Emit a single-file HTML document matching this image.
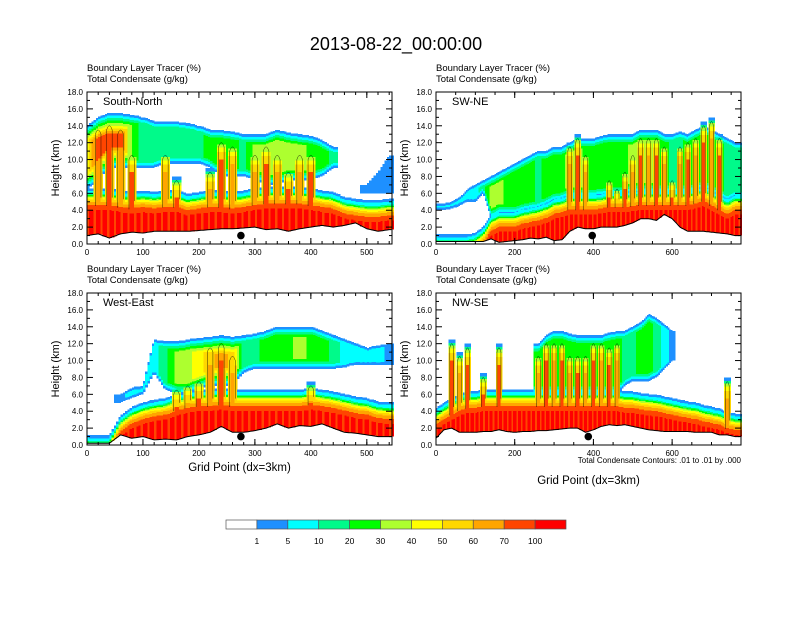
<!DOCTYPE html>
<html><head><meta charset="utf-8">
<style>
html,body{margin:0;padding:0;background:#fff;}
body{width:792px;height:612px;overflow:hidden;font-family:"Liberation Sans",sans-serif;}
svg text{font-family:"Liberation Sans",sans-serif;}
</style></head>
<body>
<svg id="fig" width="792" height="612" viewBox="0 0 792 612" xmlns="http://www.w3.org/2000/svg">
<text x="396" y="50" font-size="18" text-anchor="middle">2013-08-22_00:00:00</text>
</svg>
<script>
// ---------- DATA ----------
const colors = ["#ffffff","#1e90ff","#00ffff","#00fa8a","#00ff00","#adff2f","#ffff00","#ffd700","#ffa500","#ff4500","#ff0000"];
const legendLabels = ["1","5","10","20","30","40","50","60","70","100"];
const yTickLabels = ["0.0","2.0","4.0","6.0","8.0","10.0","12.0","14.0","16.0","18.0"];

// Panel 1: South-North (grid step 20)
const p1Terrain = [1.0,1.2,0.7,1.2,1.4,1.3,1.5,1.5,1.5,1.5,1.6,1.7,1.8,1.8,1.9,2.0,1.7,1.8,1.5,1.8,2.0,2.2,2.0,2.2,2.5,1.8,1.5,1.7];
const p1Plume   = [6.0,6.0,6.0,5.8,5.6,5.8,5.6,5.8,5.8,5.4,5.6,5.8,5.8,5.6,5.8,6.0,6.2,6.2,6.2,6.2,6.0,5.8,5.6,5.0,4.8,4.6,4.6,4.8];
const p1Conv    = [0,14,14.5,14,11,0,0,11,8,0,0,9,12.5,12,0,11,12,11,9,11,11,0,0,0,0,0,0,0];
const p1AnvBase = [6.5,7.5,9,9,9,9,9,9.5,9.5,9.5,9.5,9,8,8,8,7.5,7,7,7.5,7.5,7.5,8,9,0,0,6,6,6];
const p1AnvTop  = [14,15,15.5,15.5,15.3,15,14.5,14.5,14.5,14.3,14,13.5,13.5,13.3,13,13,13,13.5,13.2,13,12.8,12.3,11.5,0,0,7,8.5,10.5];
const p1AnvCore = [6,9,9,9,4,3,3,3,3,3,3,4,4,4,3,5,5,5,5,5,4,4,3,0,0,1,1,1];

// Panel 2: SW-NE
const p2Terrain = [0.3,0.3,0.3,0.3,0.3,0.3,0.3,0.6,0.2,0.3,0.4,0.5,0.7,0.6,0.8,0.4,0.5,1.5,2.0,1.8,1.8,2.0,2.0,2.0,2.2,2.5,3.0,3.0,2.8,3.5,3.0,2.0,1.5,1.5,1.5,1.4,1.3,1.2,1.0];
const p2Plume   = [0.6,0.6,0.6,0.6,0.6,0.8,1.5,3,3.5,3.5,3.5,3.8,4,4.2,4.5,5,5.2,5.5,5.5,5.5,5.5,5.6,5.8,5.8,5.8,5.9,6,6,6,6,6,6,6,6.2,6.5,6,5.5,5,5.5];
const p2Conv    = [0,0,0,0,0,0,0,0,0,0,0,0,0,0,0,0,0,12,13,11,0,0,8,7,9,11,13,13,13,12,8,12,12.5,13,14.5,15,13,0,0];
const p2AnvBase = [4,4,4.2,4.5,5,5,6,3,3.5,3.5,3.5,3.8,4,4.2,4.5,5,5.2,5.5,5.5,5.5,5.5,5.6,5.8,5.8,5.8,5.9,6,6,6,6,6,6,6,6.2,6.5,6,5.5,5,5.5];
const p2AnvTop  = [4.8,4.8,5,5.5,6.5,7,7.5,8,8.5,9,9.5,10,10.5,11,11,11.5,11.5,12,12.5,12.5,12.5,12.8,13,13,13,13,13.5,13.5,13.5,13,13,13.3,13,13.5,14,13.5,13,12.5,12];
const p2AnvCore = [2,2,2,2,2,2,3,5,5,4,4,4,4,3,4,4,4,5,5,4,4,4,4,4,4,5,5,5,4,4,3,3,4,4,4,4,4,3,3];

// Panel 3: West-East
const p3Terrain = [0.2,0.2,0.2,1.2,0.8,1.0,0.6,0.7,0.6,1.0,1.2,1.5,2.2,1.5,1.5,1.7,2.0,2.5,2.0,2.3,2.2,2.5,2.0,1.5,1.4,1.2,1.0,1.0];
const p3Plume   = [0.6,0.6,0.6,3,4,4.5,4.8,5,5.5,5.8,6,6,6.2,6,6,6,6,6,6,6,6.2,6,5.8,5.5,5.2,5,4.6,4.5];
const p3Conv    = [0,0,0,0,0,0,0,0,7,7.5,8,12,12.5,11,0,0,0,0,0,0,7.5,0,0,0,0,0,0,0];
const p3AnvBase = [0,0,0,5,5.5,6,8.5,6.5,6,6,6.5,7,7,7,8.5,9,9,9,9,9,9,9,9,9.2,9.5,9.5,9.5,9.5];
const p3AnvTop  = [0,0,0,6,6.8,7,12.5,12.3,12.3,12.5,12.7,12.8,13,12.8,13,13.2,13.5,14,14,14,14,13.5,13,12.5,12,11.5,11.8,12];
const p3AnvCore = [0,0,0,1,2,2,2,3,5,5,6,7,8,7,3,3,4,4,4,5,4,4,3,2,2,2,2,1];

// Panel 4: NW-SE
const p4Terrain = [0.8,1.8,2.0,1.5,1.5,1.5,1.6,1.6,1.8,1.6,1.5,1.6,1.6,1.7,1.7,1.8,1.9,2.0,2.0,1.5,1.8,2.2,2.4,2.3,2.4,2.2,2.0,1.8,1.7,1.6,1.6,1.6,1.6,1.5,1.5,1.5,1.2,1.2,1.0];
const p4Plume   = [3.8,4.5,5.0,5.5,5.8,5.8,6,6,6,6,6,6,6,6,6,6,6,6,6,6,6,6,6,6,5.8,5.8,5.6,5.5,5.4,5.2,5,4.8,4.6,4.5,4.2,4,3.8,3.4,3.2];
const p4Conv    = [0,0,12.5,11,12,0,8.5,0,12,0,0,0,0,11,12.5,12.5,12.5,11,11,11,12.5,12.5,12,12.5,0,0,0,0,0,0,0,0,0,0,0,0,0,8,0];
const p4AnvBase = [0,0,0,0,0,0,0,0,0,0,0,0,0,6,6,6,6,6,6,6,6,6,6,6,7,7.5,7.5,7.5,8,9,10,0,0,0,0,0,0,0,0];
const p4AnvTop  = [0,0,0,0,0,0,0,0,0,0,0,0,0,12,13,13.5,13.5,13.2,13,13,13,13,13.3,13.5,13.5,14,14.5,15.5,15,14.3,13.5,0,0,0,0,0,0,0,0];
const p4AnvCore = [0,0,0,0,0,0,0,0,0,0,0,0,0,4,4,4,4,4,4,4,4,4,4,4,3,3,4,4,3,2,1,0,0,0,0,0,0,0,0];

// ---------- RENDER ----------
const NS = "http://www.w3.org/2000/svg";
const svg = document.getElementById('fig');
function mk(tag, attrs, parent){
  const e = document.createElementNS(NS, tag);
  for (const k in attrs) e.setAttribute(k, attrs[k]);
  (parent||svg).appendChild(e);
  return e;
}
const panels = [
  {name:"south-north", label:"South-North", x0:87, y0:92, w:305, h:152, xmax:545, step:20, xt:[0,100,200,300,400,500], minor:20,
   terrain:p1Terrain, plume:p1Plume, conv:p1Conv, ab:p1AnvBase, at:p1AnvTop, ac:p1AnvCore, dot:275, xtitle:false},
  {name:"sw-ne", label:"SW-NE", x0:436, y0:92, w:305, h:152, xmax:775, step:20, xt:[0,200,400,600], minor:50,
   terrain:p2Terrain, plume:p2Plume, conv:p2Conv, ab:p2AnvBase, at:p2AnvTop, ac:p2AnvCore, dot:397, xtitle:false},
  {name:"west-east", label:"West-East", x0:87, y0:293, w:305, h:152, xmax:545, step:20, xt:[0,100,200,300,400,500], minor:20,
   terrain:p3Terrain, plume:p3Plume, conv:p3Conv, ab:p3AnvBase, at:p3AnvTop, ac:p3AnvCore, dot:275, xtitle:true},
  {name:"nw-se", label:"NW-SE", x0:436, y0:293, w:305, h:152, xmax:775, step:20, xt:[0,200,400,600], minor:50,
   terrain:p4Terrain, plume:p4Plume, conv:p4Conv, ab:p4AnvBase, at:p4AnvTop, ac:p4AnvCore, dot:387, xtitle:true, note:true}
];

function interp(arr, step, x){
  const f = x/step; let i = Math.floor(f); if (i >= arr.length-1) return arr[arr.length-1];
  const t = f - i; return arr[i]*(1-t) + arr[i+1]*t;
}
function interpGap(arr, step, x){
  const f = x/step; let i = Math.floor(f); if (i >= arr.length-1) return arr[arr.length-1];
  const t = f - i; const a = arr[i], b = arr[i+1];
  if (a === 0 || b === 0) return t < 0.5 ? a : b;
  return a*(1-t) + b*t;
}
const HW = 10;
function levelAt(p, x, z, col){
  const ter = interp(p.terrain, p.step, x);
  if (z < ter) return -1;
  let lv = 0;
  const pl = interp(p.plume, p.step, x);
  if (z <= pl){
    const d = pl - z;
    lv = d > 2 ? ((col % 3 === 0) ? 9 : 10) : d > 1.4 ? 9 : d > 1.0 ? 8 : d > 0.75 ? 7 : d > 0.55 ? 6 : d > 0.4 ? 5 : d > 0.25 ? 4 : d > 0.1 ? 3 : 2;
  } else {
    const d = z - pl;
    const f = d < 0.25 ? 2 : d < 0.55 ? 1 : 0;
    lv = Math.max(lv, f);
  }
  const i = Math.round(x / p.step);
  if (i < p.conv.length && p.conv[i] > 0 && Math.abs(x - i*p.step) < HW){
    const c = p.conv[i];
    if (z <= c){
      const dv = c - z;
      const m = HW - Math.abs(x - i*p.step);
      const d = Math.min(dv, m * 0.45);
      const cl = d > 2.5 ? ((i % 2) ? 8 : 9) : d > 1.6 ? 7 : d > 1.1 ? 6 : d > 0.7 ? 5 : d > 0.4 ? 3 : 1;
      lv = Math.max(lv, cl);
    }
  }
  const ab = interpGap(p.ab, p.step, x), at = interpGap(p.at, p.step, x);
  if (ab > 0 && at > ab && z >= ab && z <= at){
    const core = interpGap(p.ac, p.step, x);
    const e = Math.min(z - ab, at - z);
    const al = Math.min(Math.round(core), 1 + Math.floor(e / 0.3));
    lv = Math.max(lv, Math.max(1, al));
  }
  return lv;
}

panels.forEach(p => {
  const g = mk('g', {});
  
  
  const sx = x => p.x0 + x / p.xmax * p.w;
  const sy = z => p.y0 + p.h - z / 18 * p.h;
  const t1 = mk('text', {x:p.x0, y:p.y0-21, 'font-size':'9.5'}, g);
  t1.textContent = 'Boundary Layer Tracer   (%)';
  
  
  const t2 = mk('text', {x:p.x0, y:p.y0-10, 'font-size':'9.5'}, g);
  t2.textContent = 'Total Condensate   (g/kg)';
  
  
  const fill = mk('g', {'shape-rendering':'crispEdges'}, g);
  
  
  const dx = 4, dz = 0.1;
  let col = 0;
  for (let x = 0; x < p.xmax; x += dx, col++){
    const xc = x + dx/2;
    let cur = -2, start = 0;
    for (let z = 0; z <= 18 + 1e-6; z += dz){
      const lv = z >= 18 ? -2 : levelAt(p, xc, z + dz/2, col);
      if (lv !== cur){
        if (cur > 0){
          const r = mk('rect', {x:sx(x).toFixed(2), y:sy(z).toFixed(2), width:(sx(x+dx)-sx(x)+0.4).toFixed(2), height:(sy(start)-sy(z)).toFixed(2), fill:colors[cur]}, fill);
          
          
        }
        cur = lv; start = z;
      }
    }
  }
  let d = '';
  for (let x = 0; x <= p.xmax; x += 4){
    const z = interp(p.terrain, p.step, x);
    d += (x === 0 ? 'M' : 'L') + sx(x).toFixed(1) + ',' + sy(z).toFixed(1);
  }
  const tl = mk('path', {d:d, fill:'none', stroke:'#000', 'stroke-width':'1'}, g);
  
  
  p.conv.forEach((c, i) => {
    if (c <= 0) return;
    const xc = i * p.step, base = interp(p.plume, p.step, xc) - 1.5;
    const pth = mk('path', {d:`M${sx(xc-5)},${sy(base)} L${sx(xc-5)},${sy(c-1)} Q${sx(xc)},${sy(c)} ${sx(xc+5)},${sy(c-1)} L${sx(xc+5)},${sy(base+1)}`, fill:'none', stroke:'#000', 'stroke-width':'0.5', 'stroke-opacity':'0.8'}, g);
    
    
  });
  const dot = mk('circle', {cx:sx(p.dot), cy:sy(1.0), r:3.8, fill:'#000'}, g);
  
  
  const fr = mk('rect', {x:p.x0, y:p.y0, width:p.w, height:p.h, fill:'none', stroke:'#000', 'stroke-width':'1'}, g);
  
  
  yTickLabels.forEach((lab, k) => {
    const y = sy(k*2);
    mk('line', {x1:p.x0, x2:p.x0+6, y1:y, y2:y, stroke:'#000'}, g);
    mk('line', {x1:p.x0+p.w, x2:p.x0+p.w-6, y1:y, y2:y, stroke:'#000'}, g);
    const tt = mk('text', {x:p.x0-4, y:y+3, 'font-size':'8', 'text-anchor':'end'}, g);
    tt.textContent = lab;
    
    
  });
  for (let k = 1; k < 18; k += 2){
    const y = sy(k);
    mk('line', {x1:p.x0, x2:p.x0+3, y1:y, y2:y, stroke:'#000'}, g);
    mk('line', {x1:p.x0+p.w, x2:p.x0+p.w-3, y1:y, y2:y, stroke:'#000'}, g);
  }
  for (let v = 0; v <= p.xmax; v += p.minor){
    const x = sx(v);
    mk('line', {x1:x, x2:x, y1:p.y0+p.h, y2:p.y0+p.h-3, stroke:'#000'}, g);
    mk('line', {x1:x, x2:x, y1:p.y0, y2:p.y0+3, stroke:'#000'}, g);
  }
  p.xt.forEach(v => {
    const x = sx(v);
    mk('line', {x1:x, x2:x, y1:p.y0+p.h, y2:p.y0+p.h-6, stroke:'#000'}, g);
    mk('line', {x1:x, x2:x, y1:p.y0, y2:p.y0+6, stroke:'#000'}, g);
    const tt = mk('text', {x:x, y:p.y0+p.h+11, 'font-size':'8', 'text-anchor':'middle'}, g);
    tt.textContent = String(v);
    
    
  });
  const yt = mk('text', {x:0, y:0, 'font-size':'11', 'text-anchor':'middle', transform:`translate(${p.x0-28},${p.y0+p.h/2}) rotate(-90)`}, g);
  yt.textContent = 'Height (km)';
  
  
  const pl = mk('text', {x:p.x0+16, y:p.y0+13, 'font-size':'11'}, g);
  pl.textContent = p.label;
  
  
  if (p.note){
    const nt = mk('text', {x:p.x0+p.w, y:p.y0+p.h+18, 'font-size':'8', 'text-anchor':'end'}, g);
    nt.textContent = 'Total Condensate Contours: .01 to .01 by .000';
    
    
  }
  if (p.xtitle){
    const xt = mk('text', {x:p.x0+p.w/2, y:p.y0+p.h+(p.note?39:26), 'font-size':'11.5', 'text-anchor':'middle'}, g);
    xt.textContent = 'Grid Point (dx=3km)';
    
    
  }
});

const cb = mk('g', {});


const cbx = 226, cbw = 340, cby = 520, cbh = 9;
const bw = cbw / colors.length;
colors.forEach((c, i) => {
  const r = mk('rect', {x:cbx+i*bw, y:cby, width:bw, height:cbh, fill:c, stroke:'#555', 'stroke-width':'0.7'}, cb);
  
  
});
legendLabels.forEach((lab, i) => {
  const t = mk('text', {x:cbx+(i+1)*bw, y:544, 'font-size':'8.5', 'text-anchor':'middle'}, cb);
  t.textContent = lab;
  
  
});
</script>
</body></html>
